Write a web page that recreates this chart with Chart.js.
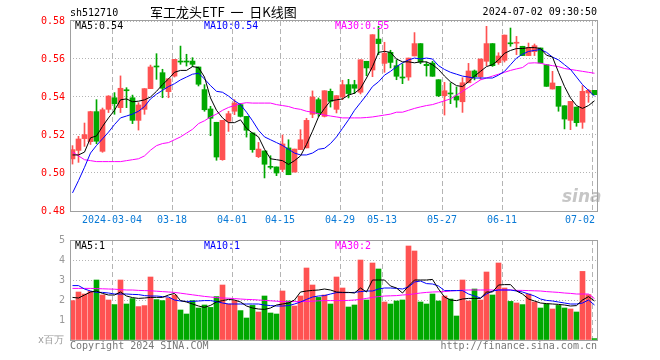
<!DOCTYPE html>
<html>
<head>
<meta charset="utf-8">
<script src="https://cdn.jsdelivr.net/npm/chart.js@4.4.1/dist/chart.umd.min.js"></script>
<style>
  body { margin: 0; background: #fff; }
  #wrap { position: relative; width: 660px; height: 360px; overflow: hidden; }
  canvas { position: absolute; left: 0; top: 0; }
  .t { position: absolute; font: 10px "DejaVu Sans Mono", monospace; line-height: 12px; white-space: pre; color: #000; }
</style>
</head>
<body>
<div id="wrap">
  <canvas id="kline" width="660" height="360"></canvas>
  <canvas id="vol" width="660" height="360"></canvas>
  <div class="t" style="left:70px;top:7px">sh512710</div>
  <div class="t" style="left:150px;top:4px;font:13px 'Noto Sans CJK SC';line-height:16px">军工龙头ETF  一  日K线图</div>
  <div class="t" style="right:63px;top:6px">2024-07-02 09:30:50</div>
  <div class="t" style="left:75px;top:20px">MA5:0.54</div>
  <div class="t" style="left:204px;top:20px;color:#0000ff">MA10:0.54</div>
  <div class="t" style="left:335px;top:20px;color:#ff00ff">MA30:0.55</div>
  <div class="t" style="left:75px;top:240px">MA5:1</div>
  <div class="t" style="left:204px;top:240px;color:#0000ff">MA10:1</div>
  <div class="t" style="left:335px;top:240px;color:#ff00ff">MA30:2</div>
  <div class="t" style="right:596px;top:334px;color:#999">x百万</div>
  <div class="t" style="left:70px;top:340px;color:#777">Copyright 2024 SINA.COM</div>
  <div class="t" style="right:63px;top:340px;color:#777">http://finance.sina.com.cn</div>
  <div class="t" style="left:562px;top:186px;font:italic bold 17px 'DejaVu Sans';color:rgba(160,160,160,0.6)">sina</div>
</div>
<script>
// 交易日 (2024)
const dates = [
  '02-22','02-23','02-26','02-27','02-28','02-29','03-01',
  '03-04','03-05','03-06','03-07','03-08','03-11','03-12','03-13','03-14','03-15',
  '03-18','03-19','03-20','03-21','03-22','03-25','03-26','03-27','03-28','03-29',
  '04-01','04-02','04-03','04-08','04-09','04-10','04-11','04-12',
  '04-15','04-16','04-17','04-18','04-19','04-22','04-23','04-24','04-25','04-26',
  '04-29','04-30','05-06','05-07','05-08','05-09','05-10',
  '05-13','05-14','05-15','05-16','05-17','05-20','05-21','05-22','05-23','05-24',
  '05-27','05-28','05-29','05-30','05-31','06-03','06-04','06-05','06-06','06-07',
  '06-11','06-12','06-13','06-14','06-17','06-18','06-19','06-20','06-21',
  '06-24','06-25','06-26','06-27','06-28','07-01','07-02'
];
const tickDates = ['03-04','03-18','04-01','04-15','04-29','05-13','05-27','06-11','07-02'];
const tickLabels = ['2024-03-04','03-18','04-01','04-15','04-29','05-13','05-27','06-11','07-02'];
const priceTicks = [0.48, 0.50, 0.52, 0.54, 0.56, 0.58];
const volTicks = [0, 1, 2, 3, 4, 5];

const open = [
  .5074,.5119,.5181,.5165,.5323,.5114,.5335,.5396,.5344,.5437,
  .5396,.5277,.5335,.5444,.5561,.5528,.5428,.5510,.5586,.5586,
  .5589,.5558,.5439,.5337,.5267,.5070,.5272,.5325,.5360,.5298,
  .5211,.5086,.5116,.5032,.5032,.5019,.5132,.5005,.5123,.5132,
  .5309,.5386,.5298,.5430,.5335,.5400,.5465,.5465,.5425,.5588,
  .5542,.5705,.5577,.5635,.5565,.5502,.5505,.5616,.5681,.5572,
  .5579,.5491,.5407,.5418,.5405,.5375,.5475,.5537,.5507,.5588,
  .5681,.5581,.5593,.5682,.5683,.5667,.5618,.5639,.5658,.5570,
  .5442,.5456,.5354,.5277,.5347,.5267,.5421,.5435
];
const high = [
  .5144,.5193,.5263,.5325,.5386,.5342,.5407,.5423,.5511,.5449,
  .5410,.5370,.5444,.5568,.5628,.5546,.5496,.5598,.5668,.5625,
  .5607,.5558,.5465,.5351,.5267,.5277,.5325,.5386,.5365,.5298,
  .5211,.5161,.5116,.5091,.5032,.5200,.5175,.5126,.5228,.5288,
  .5432,.5395,.5433,.5442,.5407,.5488,.5493,.5488,.5596,.5588,
  .5728,.5772,.5688,.5646,.5596,.5575,.5605,.5739,.5681,.5584,
  .5588,.5491,.5477,.5474,.5453,.5502,.5577,.5542,.5600,.5772,
  .5681,.5633,.5726,.5763,.5719,.5667,.5684,.5679,.5658,.5570,
  .5535,.5456,.5354,.5377,.5347,.5460,.5440,.5435
];
const low = [
  .5047,.5056,.5140,.5150,.5154,.5109,.5318,.5309,.5318,.5344,
  .5260,.5226,.5309,.5444,.5493,.5396,.5396,.5505,.5572,.5563,
  .5560,.5458,.5325,.5196,.5067,.5067,.5219,.5307,.5295,.5189,
  .5109,.5081,.4974,.5021,.4986,.5007,.4991,.5005,.5123,.5132,
  .5291,.5298,.5295,.5347,.5316,.5386,.5395,.5418,.5416,.5512,
  .5507,.5623,.5530,.5553,.5491,.5470,.5488,.5616,.5575,.5510,
  .5509,.5402,.5305,.5365,.5346,.5319,.5475,.5490,.5493,.5565,
  .5561,.5572,.5584,.5667,.5623,.5618,.5618,.5618,.5579,.5456,
  .5442,.5325,.5232,.5228,.5246,.5235,.5372,.5412
];
const close = [
  .5123,.5179,.5202,.5323,.5167,.5333,.5405,.5365,.5446,.5433,
  .5277,.5358,.5444,.5558,.5558,.5446,.5496,.5598,.5584,.5584,
  .5572,.5467,.5333,.5288,.5084,.5277,.5312,.5368,.5298,.5225,
  .5123,.5126,.5046,.5030,.5000,.5153,.4991,.5126,.5175,.5277,
  .5400,.5312,.5433,.5377,.5407,.5465,.5418,.5446,.5596,.5553,
  .5728,.5681,.5630,.5582,.5509,.5500,.5605,.5681,.5584,.5565,
  .5509,.5407,.5433,.5416,.5384,.5475,.5537,.5507,.5600,.5681,
  .5565,.5616,.5726,.5680,.5685,.5618,.5660,.5670,.5579,.5456,
  .5474,.5351,.5284,.5377,.5265,.5430,.5435,.5412
];
const ma5 = [
  .5095,.5095,.511,.5185,.5195,.5245,.529,.533,.5385,.539,
  .5375,.5378,.5385,.540,.543,.5465,.5495,.553,.554,.554,
  .556,.5555,.5505,.5395,.533,.529,.5265,.5265,.528,.5235,
  .521,.519,.5125,.5075,.507,.5065,.5045,.5065,.509,.515,
  .522,.5295,.534,.538,.5385,.539,.541,.542,.5445,.550,
  .556,.5635,.564,.5635,.560,.5585,.5585,.558,.5585,.5585,
  .557,.5545,.551,.548,.546,.5455,.548,.551,.5535,.556,
  .557,.5595,.563,.5645,.5655,.5655,.566,.566,.5655,.562,
  .561,.553,.5455,.5395,.5355,.534,.5355,.538
];
const ma10 = [
  .4895,.496,.503,.5105,.5145,.518,.5215,.5255,.529,.530,
  .531,.5325,.535,.539,.5415,.5435,.5455,.547,.549,.5505,
  .552,.5525,.5495,.546,.543,.5425,.5405,.538,.536,.532,
  .5275,.5225,.519,.5175,.516,.5145,.5125,.5105,.5095,.5095,
  .5105,.5125,.513,.5155,.519,.5235,.528,.533,.537,.541,
  .5455,.548,.5515,.5535,.556,.558,.5595,.5605,.560,.5605,
  .560,.5565,.5545,.553,.552,.551,.5505,.55,.55,.55,
  .55,.5515,.5535,.557,.5605,.5625,.564,.5645,.565,.5635,
  .561,.5595,.557,.5545,.5505,.5465,.5435,.5405
];
const ma30 = [
  .511,.509,.507,.5065,.506,.506,.506,.506,.506,.5065,
  .507,.5075,.509,.512,.5144,.5155,.516,.5175,.519,.521,
  .523,.526,.5275,.5295,.531,.533,.5345,.5355,.5365,.537,
  .5368,.5368,.5368,.5368,.536,.5355,.535,.534,.5335,.5325,
  .532,.5312,.5305,.530,.5295,.529,.529,.529,.529,.5292,
  .5295,.530,.5305,.531,.532,.532,.533,.534,.5348,.5355,
  .536,.537,.538,.539,.541,.543,.545,.547,.549,.550,
  .551,.552,.553,.554,.5548,.5555,.5578,.558,.5578,.557,
  .5565,.556,.555,.5545,.554,.5535,.553,.5525
];
// 成交量 (百万)
const volume = [
  1.97,2.4,2.3,2.43,3.0,2.25,2.0,1.77,3.0,1.8,
  2.07,1.67,1.72,3.15,2.02,1.97,2.1,2.25,1.5,1.3,
  1.97,1.6,1.75,1.63,2.17,2.75,1.8,1.97,1.47,1.1,
  1.73,1.4,2.2,1.35,1.3,2.45,1.95,1.7,2.2,3.6,
  2.75,2.13,2.25,1.8,3.15,2.6,1.65,1.75,4.0,2.0,
  3.85,3.55,1.9,1.8,1.95,2.0,4.7,4.45,1.9,1.8,
  2.3,1.95,2.2,2.05,1.2,3.0,1.95,2.55,2.0,3.4,
  2.25,3.85,2.6,1.93,1.85,1.77,2.3,1.9,1.6,1.8,
  1.55,1.73,1.6,1.55,1.4,3.43,2.27,0.07
];
const volMa5 = [
  2.13,2.1,2.25,2.4,2.45,2.33,2.25,2.25,2.4,2.2,
  2.12,2.08,2.1,2.13,2.13,2.13,2.25,2.33,1.97,1.9,
  1.8,1.7,1.63,1.73,1.9,1.97,2.03,2.0,1.9,1.7,
  1.6,1.55,1.53,1.6,1.75,1.8,1.85,2.0,2.4,2.45,
  2.48,2.5,2.55,2.5,2.4,2.38,2.38,2.35,2.6,2.4,
  3.0,3.0,3.0,2.7,2.6,2.35,2.7,3.0,3.0,3.0,
  3.03,2.55,2.15,2.0,1.97,2.05,2.08,2.08,2.08,2.4,
  2.4,2.75,2.77,2.77,2.45,2.3,2.05,1.95,1.85,1.82,
  1.8,1.78,1.75,1.7,1.72,2.0,2.17,1.95
];
const volMa10 = [
  2.72,2.72,2.55,2.45,2.38,2.38,2.35,2.3,2.3,2.3,
  2.28,2.27,2.22,2.2,2.2,2.17,2.15,2.0,1.95,1.93,
  1.93,1.95,1.97,1.97,1.92,1.85,1.8,1.8,1.8,1.8,
  1.8,1.8,1.75,1.72,1.7,1.7,1.72,1.8,1.9,2.03,
  2.15,2.2,2.22,2.3,2.37,2.37,2.37,2.38,2.42,2.45,
  2.45,2.55,2.6,2.6,2.58,2.55,2.65,2.9,2.95,2.82,
  2.8,2.7,2.47,2.47,2.47,2.47,2.3,2.2,2.1,2.3,
  2.45,2.5,2.5,2.5,2.45,2.4,2.3,2.2,2.05,1.98,
  1.95,1.9,1.85,1.8,1.8,1.85,2.0,1.75
];
const volMa30 = [
  2.58,2.58,2.58,2.58,2.57,2.56,2.55,2.54,2.52,2.5,
  2.5,2.48,2.47,2.46,2.44,2.42,2.4,2.38,2.34,2.3,
  2.26,2.22,2.18,2.15,2.12,2.1,2.09,2.07,2.05,2.03,
  2.02,2.0,1.98,1.96,1.94,1.92,1.92,1.92,1.92,1.93,
  1.94,1.96,1.97,1.97,1.97,1.97,1.98,2.0,2.03,2.08,
  2.13,2.17,2.2,2.21,2.22,2.25,2.27,2.31,2.35,2.38,
  2.4,2.41,2.42,2.45,2.47,2.49,2.5,2.5,2.5,2.5,
  2.5,2.5,2.5,2.5,2.48,2.48,2.47,2.46,2.45,2.42,
  2.4,2.38,2.35,2.33,2.3,2.3,2.3,2.07
];

const RED = '#ff5252';
const GREEN = '#00a800';
const GRID = '#b4b4b4';
const MONO = '"DejaVu Sans Mono", monospace';
// 每根K线宽6px，左边缘对齐日期虚线
const X_MIN = -2.5 / 6;
const X_MAX = dates.length - 1 + 3.5 / 6;
const tickIdx = tickDates.map(d => dates.indexOf(d));

const upColor = i => close[i] >= open[i] ? RED : GREEN;
const xy = arr => arr.map((v, i) => ({ x: i, y: v }));

// 画外框
const framePlugin = {
  id: 'frame',
  afterDraw(chart, args, opts) {
    const { ctx, chartArea: a } = chart;
    ctx.save();
    ctx.strokeStyle = '#a0a0a0';
    ctx.lineWidth = 1;
    const x0 = Math.round(a.left) + 0.5, x1 = Math.round(a.right) - 0.5;
    const y0 = Math.round(a.top) + (opts.dy || 0) + 0.5, y1 = Math.round(a.bottom) + 0.5;
    ctx.strokeRect(x0, y0, x1 - x0, y1 - y0);
    ctx.restore();
  }
};

function xScale(showLabels) {
  return {
    type: 'linear',
    min: X_MIN,
    max: X_MAX,
    offset: false,
    afterBuildTicks(scale) {
      scale.ticks = tickIdx.map(i => ({ value: i - 2.5 / 6 }));
    },
    afterFit(scale) { scale.height = showLabels ? 19 : 0; },
    grid: { offset: false, color: GRID, lineWidth: 1, drawTicks: false },
    border: { display: false, dash: [5, 3] },
    ticks: {
      display: showLabels,
      autoSkip: false,
      maxRotation: 0,
      padding: 3,
      color: '#0a7ad6',
      font: { family: MONO, size: 10 },
      callback: (v, idx) => idx === tickLabels.length - 1 ? tickLabels[idx] + '    ' : tickLabels[idx]
    }
  };
}

const candleBody = {
  type: 'bar',
  order: 3,
  data: open.map((o, i) => ({ x: i, y: [o, close[i]] })),
  backgroundColor: open.map((o, i) => upColor(i)),
  barThickness: 5,
  minBarLength: 1,
  grouped: false
};
const candleWick = {
  type: 'bar',
  order: 4,
  data: low.map((l, i) => ({ x: i, y: [l, high[i]] })),
  backgroundColor: open.map((o, i) => upColor(i)),
  barThickness: 1,
  grouped: false
};
const line = (arr, color) => ({
  type: 'line', order: 1, data: xy(arr), borderColor: color, borderWidth: 1,
  pointRadius: 0, tension: 0, fill: false
});

new Chart(document.getElementById('kline'), {
  type: 'bar',
  data: {
    datasets: [candleBody, candleWick, line(ma5, '#000000'), line(ma10, '#0000ff'), line(ma30, '#ff00ff')]
  },
  options: {
    responsive: false,
    animation: false,
    layout: { padding: { left: 0, right: 62, top: 21, bottom: 130 } },
    plugins: { legend: { display: false }, tooltip: { enabled: false }, frame: { dy: -1 } },
    scales: {
      x: xScale(true),
      y: {
        min: 0.48, max: 0.58,
        afterBuildTicks(scale) { scale.ticks = priceTicks.map(v => ({ value: v })); },
        afterFit(scale) { scale.width = 70; },
        grid: { color: GRID, lineWidth: 1, drawTicks: false },
        border: { display: false, dash: [1, 2] },
        ticks: { color: '#ff0000', padding: 5, font: { family: MONO, size: 10 }, callback: v => v.toFixed(2) }
      }
    }
  },
  plugins: [framePlugin]
});

new Chart(document.getElementById('vol'), {
  type: 'bar',
  data: {
    datasets: [
      {
        type: 'bar', order: 3,
        data: xy(volume),
        backgroundColor: volume.map((v, i) => upColor(i)),
        barThickness: 5, grouped: false
      },
      line(volMa5, '#000000'), line(volMa10, '#0000ff'), line(volMa30, '#ff00ff')
    ]
  },
  options: {
    responsive: false,
    animation: false,
    layout: { padding: { left: 0, right: 62, top: 240, bottom: 20 } },
    plugins: { legend: { display: false }, tooltip: { enabled: false }, frame: { dy: 0 } },
    scales: {
      x: xScale(false),
      y: {
        min: 0, max: 5,
        afterBuildTicks(scale) { scale.ticks = volTicks.map(v => ({ value: v })); },
        afterFit(scale) { scale.width = 70; },
        grid: { color: GRID, lineWidth: 1, drawTicks: false },
        border: { display: false, dash: [1, 2] },
        ticks: { color: '#999999', padding: 5, font: { family: MONO, size: 10 }, callback: v => v === 0 ? '' : String(v) }
      }
    }
  },
  plugins: [framePlugin]
});
</script>
</body>
</html>
